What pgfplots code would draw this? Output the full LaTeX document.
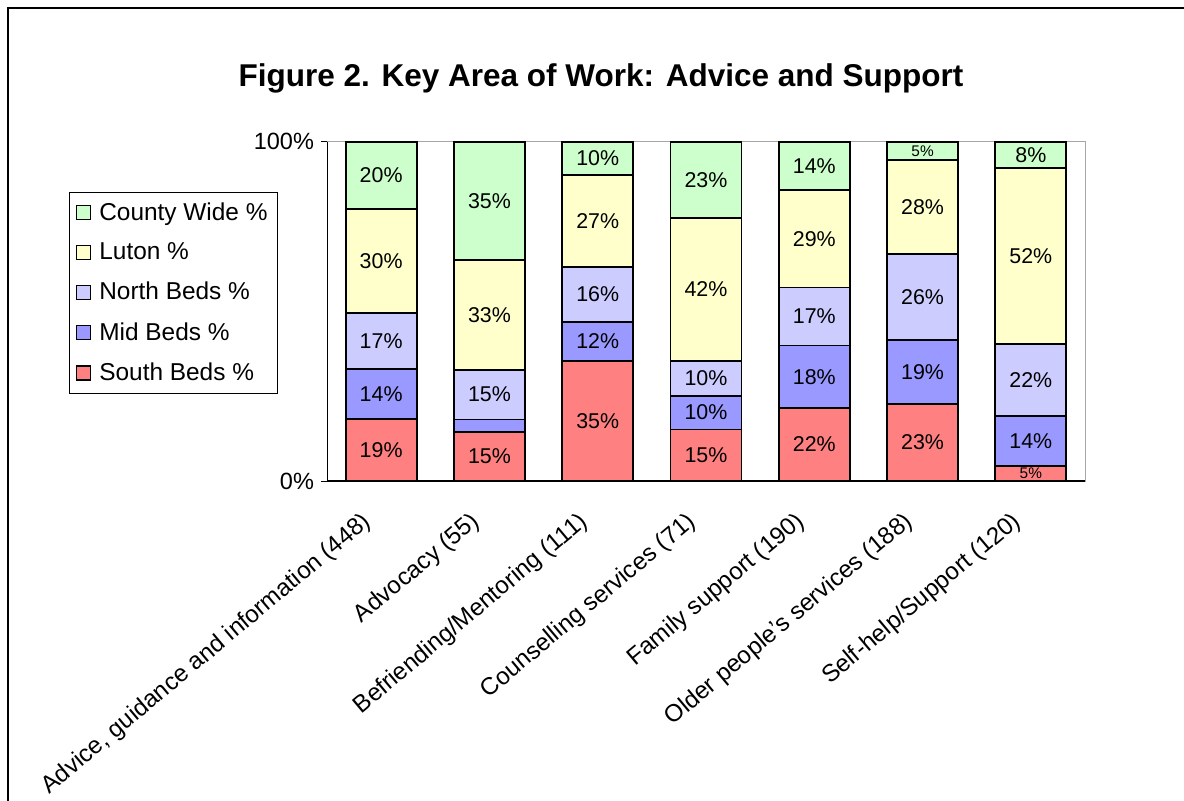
\documentclass[border=0pt]{standalone}
\usepackage{pgfplots}
\pgfplotsset{compat=1.18}
\usepackage{pgfplotstable}
\usepackage{fontspec}
\setmainfont{Liberation Sans}
\definecolor{cw}{HTML}{CCFFCC}
\definecolor{lu}{HTML}{FFFFCC}
\definecolor{nb}{HTML}{CCCCFF}
\definecolor{mb}{HTML}{9999FF}
\definecolor{sb}{HTML}{FF8080}

\pgfplotstableread{
x y lab fs
0 18.2 19\% 10.7
1 14.5 15\% 10.7
2 35.4 35\% 10.7
3 15.2 15\% 10.7
4 21.6 22\% 10.7
5 22.7 23\% 10.7
6 4.5 5\% 7.7
}\south
\pgfplotstableread{
x y lab fs
0 14.7 14\% 10.7
1 3.6 {} 10.7
2 11.5 12\% 10.7
3 9.9 10\% 10.7
4 18.3 18\% 10.7
5 18.9 19\% 10.7
6 14.7 14\% 10.7
}\mid
\pgfplotstableread{
x y lab fs
0 16.5 17\% 10.7
1 14.7 15\% 10.7
2 16.1 16\% 10.7
3 10.2 10\% 10.7
4 17.1 17\% 10.7
5 25.4 26\% 10.7
6 21.2 22\% 10.7
}\north
\pgfplotstableread{
x y lab fs
0 30.7 30\% 10.7
1 32.4 33\% 10.7
2 27.2 27\% 10.7
3 42.2 42\% 10.7
4 28.8 29\% 10.7
5 27.6 28\% 10.7
6 51.9 52\% 10.7
}\luton
\pgfplotstableread{
x y lab fs
0 19.9 20\% 10.7
1 34.8 35\% 10.7
2 9.8 10\% 10.7
3 22.5 23\% 10.7
4 14.2 14\% 10.7
5 5.4 5\% 7.7
6 7.7 8\% 10.7
}\county

\begin{document}
\begin{tikzpicture}
\useasboundingbox (0,0) rectangle (592pt,400pt);
\draw[line width=0.7pt] (4pt,-5pt) -- (4pt,396pt) -- (600pt,396pt);
\node[font=\bfseries\fontsize{15.75}{18}\selectfont] at (300.5pt,361pt) {Figure 2. Key Area of Work: Advice and Support};
\begin{axis}[
  at={(163.5pt,159.5pt)}, anchor=south west,
  scale only axis, width=379pt, height=169.7pt,
  ybar stacked, bar width=0.655,
  xmin=-0.5, xmax=6.5, ymin=0, ymax=100,
  axis line style={draw=gray!70},
  xtick={0,...,6},
  xticklabels={{Advice, guidance and information (448)},{Advocacy (55)},{Befriending/Mentoring (111)},{Counselling services (71)},{Family support (190)},{Older people’s services (188)},{Self-help/Support (120)}},
  major x tick style={draw=none},
  extra x ticks={-0.5,0.5,...,6.5},
  extra x tick labels={},
  extra x tick style={major tick length=4.5pt, tick style={black, line width=0.5pt}},
  ytick={0,100}, yticklabels={0\%,100\%},
  tick align=outside, tick pos=left,
  major tick length=3pt,
  y tick style={black, line width=0.5pt},
  xticklabel style={anchor=north east, inner sep=1pt, xshift=-10pt, yshift=-10pt, rotate=40, font=\fontsize{12.1}{14}\selectfont},
  yticklabel style={font=\fontsize{11.75}{14}\selectfont},
  /pgf/number format/assume math mode=true,
  point meta=explicit symbolic,
  nodes near coords={\pgfplotspointmeta},
  visualization depends on=\thisrow{fs} \as \fs,
  every node near coord/.append style={anchor=center, font=\fontsize{\fs}{\fs}\selectfont, text=black},
  every axis plot/.append style={draw=black, line width=0.9pt},
  reverse legend,
  legend style={at={(-0.34,0.852)}, anchor=north west, draw=black, line width=0.5pt, font=\fontsize{12.2}{14}\selectfont, row sep=5.8pt, inner xsep=3pt, inner ysep=3pt, cells={anchor=west}},
  legend image code/.code={\draw[#1, line width=0.7pt] (2.5pt,-3.5pt) rectangle (9.5pt,3.5pt); \path (11.5pt,0pt);},
]
\addplot[fill=sb] table[x=x,y=y,meta=lab]{\south};
\addplot[fill=mb] table[x=x,y=y,meta=lab]{\mid};
\addplot[fill=nb] table[x=x,y=y,meta=lab]{\north};
\addplot[fill=lu] table[x=x,y=y,meta=lab]{\luton};
\addplot[fill=cw] table[x=x,y=y,meta=lab]{\county};
\legend{South Beds \%, Mid Beds \%, North Beds \%, Luton \%, County Wide \%}
\draw[black, line width=0.6pt] (rel axis cs:0,1) -- (rel axis cs:0,0) -- (rel axis cs:1,0);
\end{axis}
\end{tikzpicture}
\end{document}
